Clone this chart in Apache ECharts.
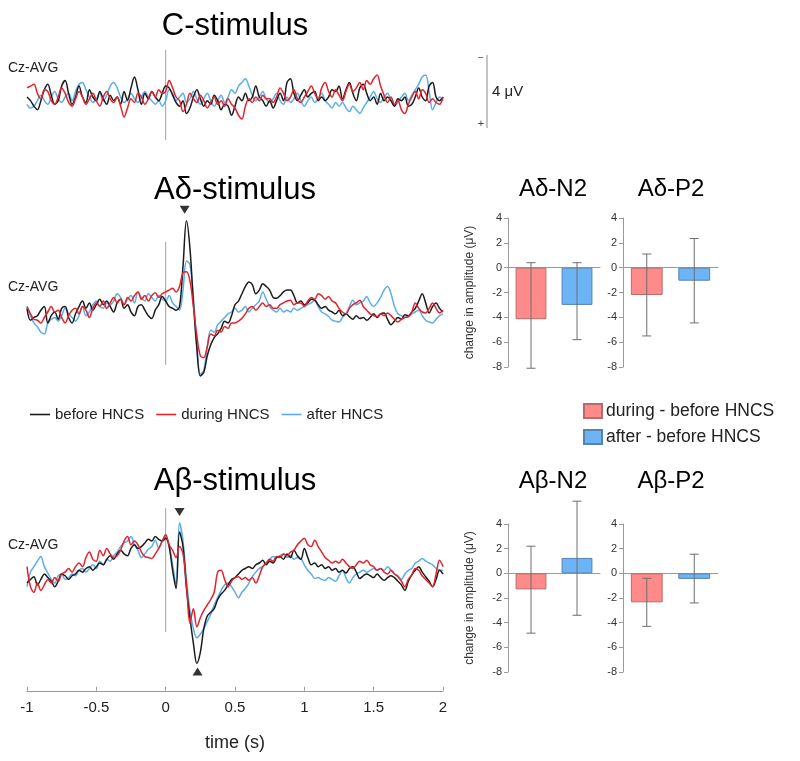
<!DOCTYPE html>
<html>
<head>
<meta charset="utf-8">
<script src="https://cdn.jsdelivr.net/npm/echarts@6/dist/echarts.min.js"></script>
<style>html,body{margin:0;padding:0;background:#fff}#chart{width:800px;height:761px}</style>
</head>
<body>
<div id="chart"></div>
<script>
// ---- sampling grid (s) ----
const tStart = -1, tStep = 0.025, nSamples = 121;
// ---- waveforms, µV (negative plotted upward) ----
const cBefore = [0,0.2,0.5,0.7,0.2,-0.4,-0.7,-0.1,0.4,0.2, -0.6,-0.9,-0.2,0.4,0,-0.6,0,0.3,-0.4,0, 0.2,-0.3,0.1,0.4,-0.1,0.2,0,0.4,-0.3,0.2, -0.5,-1.1,-0.4,0.4,-0.2,0.1,-0.3,0,0.2,-0.2, -0.6,-0.5,-0.1,0.3,0.5,0.2,0.9,0.6,0,-0.4, 0.1,0.5,0.2,0.4,-0.1,0.2,0.7,0.4,0.5,1.0, 0.5,0,0.2,-0.2,0.2,0,-0.6,0,0.2,0.5, 0.2,0.6,0.2,-0.2,0.2,-0.8,-1.0,-0.2,0.2,-0.1, -0.4,0,-0.2,-0.3,0.2,0,0.2,0,-0.4,-0.3, -0.6,0.1,-0.4,-0.8,-0.2,0.2,-0.5,-0.7,-0.2,0.2, 0,0.4,-0.2,0.2,0,0.2,0.5,0.1,0.2,0, 0.5,0.4,0,-0.5,0,0.2,-0.6,-0.8,0,0.2,0];
const cDuring = [-0.5,-0.6,-0.7,-0.2,0.1,-0.4,-0.3,0.2,0.4,0, -0.5,-0.2,0.3,0.5,0.1,-0.3,0,0.4,0.1,-0.2, 0.2,0.5,0,-0.3,0.1,0.3,0,0.5,1.1,0.6, 0.1,0.3,-0.2,0,0.4,0.1,-0.3,0,-0.4,-0.2, -0.3,-0.9,-0.5,0,0.2,0.8,0.4,-0.2,0.1,0.3, -0.1,0.2,0.6,0.3,0,0.4,0.2,0.5,0.1,0.4, 0.6,1.0,1.2,0.5,0.1,0.3,0,0.2,-0.1,0.1, 0.1,0.3,0,-0.5,-0.2,0.2,0,-0.4,0.1,0.3, 0,-0.3,-0.6,-0.2,0.1,-0.5,-0.8,-0.3,0,-0.4, -0.1,0.2,-0.3,-0.7,-0.3,-0.5,-0.8,-0.4,-0.9,-0.7, -1.0,-1.2,-0.6,-0.1,0.3,0,0.4,0.2,0.7,0.9, 0.4,0,-0.3,0.1,-0.4,-0.2,0.3,0.1,0.3,0.4,0];
const cAfter = [0.4,0.6,0.5,0.2,-0.1,0.2,0.4,0,-0.3,0.1, 0.3,0,-0.2,0.2,-0.3,-0.7,-0.8,-0.4,0,0.3, 0.1,-0.2,0.2,-0.1,-0.6,-0.8,-0.5,0,0.3,0.1, -0.2,0.1,0.3,0,-0.3,0,0.2,0.4,0.2,0.5, 0.2,-0.4,-0.2,0.2,0,-0.2,0.3,0.1,-0.3,0.1, 0.4,0.1,-0.2,0.2,0.5,0.2,-0.1,0.3,0,-0.4, -0.2,-0.6,-0.8,-1.0,-0.6,-0.1,0.2,0,-0.3,0.1, 0.3,0.1,-0.2,0.2,0.4,0,0.3,0.1,-0.2,0.2, 0.5,0.2,0,0.3,0.1,-0.2,0.2,0.4,0.6,0.3, 0.5,0.3,0.6,0.8,0.5,0.7,0.9,0.6,0.3,0, -0.3,0.1,0.3,0,-0.2,0.2,0.5,0.3,0,-0.2, 0.2,-0.1,-0.4,-0.7,-1.1,-1.2,-0.3,0.7,0.3,0,0.2];

const adBefore = [-0.2,0.45,0.3,0.2,-0.1,-0.3,0.6,0.2,0,0.4, -0.2,-0.3,0.3,0.6,0.1,-0.3,-0.6,-0.2,-0.5,-0.1, -0.4,-0.7,-0.4,-0.6,-0.3,0,-0.5,-0.7,-0.2,-0.4, 0,0.2,-0.3,-0.4,-0.1,0.2,0.35,-0.1,-0.4,-0.85, -0.6,-0.3,-0.2,-0.1,-0.3,-2.5,-5.0,-3.5,-0.5,2.0, 3.5,3.3,2.4,1.8,1.4,1.2,0.9,0.5,0.6,0.2, -0.4,-0.6,-1.0,-1.4,-1.65,-1.5,-1.0,-1.2,-1.55,-1.4, -1.2,-0.8,-0.75,-0.9,-1.1,-1.2,-1.2,-0.9,-0.5,-0.6, -0.4,-0.5,-0.7,-0.65,-0.4,-0.2,-0.3,-0.1,0,0.1, -0.1,0.2,0.1,0.25,0.4,0.2,0.35,0.3,0.45,0.3, 0.1,0.3,0.1,0.05,0.4,0.7,0.5,0.3,0.4,0.15, 0.2,0,-0.2,-0.6,-1.0,-0.5,0.05,-0.3,-0.5,-0.2,0];
const adDuring = [-0.3,0.1,0.4,0.45,0.6,0.3,0,-0.3,0,-0.1, 0.3,0.6,0.2,-0.1,-0.2,0.1,-0.3,-0.1,0.3,-0.2, -0.5,-0.3,-0.6,-0.2,-0.5,-0.8,-0.5,-0.7,-0.4,-0.8, -0.6,-0.9,-1.1,-0.7,-0.9,-0.6,-0.9,-1.05,-0.8,-1.0, -1.1,-1.2,-1.3,-1.1,-1.4,-2.15,-2.2,-1.7,-0.3,1.3, 2.4,2.5,1.9,1.2,1.3,1.0,1.1,0.8,0.9,0.6, 0.6,0.5,0.35,0.1,-0.2,-0.3,-0.1,-0.3,-0.5,-0.3, -0.4,-0.2,-0.2,-0.4,-0.5,-0.6,-0.65,-0.4,-0.5,-0.5, -0.3,-0.6,-0.8,-0.7,-1.0,-0.9,-0.7,-0.85,-0.6,-0.5, -0.2,0,0.1,-0.2,-0.4,-0.5,-0.65,-0.3,-0.1,0.1, 0.2,0.25,0.1,0.2,0.05,0.2,0.4,0.55,0.4,0.3, 0.25,0,-0.5,-0.2,0,0.05,-0.2,-0.5,-0.2,0.05,-0.1];
const adAfter = [-0.3,0.2,0.6,0.8,1.1,1.2,0.6,0.4,0.3,0.5, 0.2,-0.2,0.1,0.3,0.5,0.2,-0.3,0.2,0,-0.4, -0.6,-0.3,-0.2,-0.5,-0.4,-0.6,-1.0,-0.8,-0.4,-0.7, -0.9,-0.5,-1.1,-0.8,-0.6,-1.0,-0.8,-0.6,-0.9,-0.7, -0.6,-0.9,-0.5,-0.3,-0.1,-1.2,-2.8,-2.6,-0.8,1.8, 3.4,3.2,1.9,1.0,1.1,0.7,0.5,0.3,0.1,0, -0.2,0,-0.1,-0.3,0,-0.2,-0.4,-0.6,-1.1,-0.7, -0.3,-0.1,0,-0.2,0,-0.1,0,-0.2,-0.1,-0.2, -0.3,-0.4,-0.5,-0.65,-0.3,0,0.1,0.25,0.45,0.5, 0.55,0.3,0.1,-0.3,-0.65,-0.4,-0.5,-0.6,-0.85,-0.5, -0.3,-0.5,-0.8,-1.2,-1.4,-1.0,-0.3,0.1,0.2,0.3, 0.25,0.1,0,-0.1,0.2,0.45,0.55,0.6,0.4,0.2,0.1];

const abBefore = [1.1,0.9,0.75,1.2,0.9,0.6,0.8,1.0,1.3,1.0, 0.6,0.7,0.9,0.7,0.6,0.4,0.5,0.3,0.2,0.4, 0.2,0,0.1,-0.2,-0.4,-0.2,-0.5,-0.7,-0.5,-0.4, -0.8,-1.0,-0.8,-0.9,-1.1,-1.3,-1.2,-1.45,-1.3,-1.2, -1.35,-0.9,0.4,1.4,-1.7,-0.9,1.4,3.0,4.4,5.5, 4.9,3.6,2.9,2.7,2.5,2.0,1.7,1.5,1.2,0.9, 0.8,0.6,0.4,0.3,0.2,0.3,0.1,0,-0.15,0.1, -0.1,0,-0.3,-0.35,-0.2,-0.5,-0.3,-0.7,-0.4,-0.2, -0.8,-0.3,0.1,0,0.2,0.1,0.3,0.2,0.4,0.3, 0.5,0.4,0.55,0.3,0.2,0.5,0.85,0.7,0.6,0.7, 0.8,0.6,0.8,0.95,0.8,0.7,0.8,1.0,1.2,1.5, 1.0,0.65,0.4,0.2,0.5,0.75,1.0,1.3,0.9,0.4,0.6];
const abDuring = [0.2,1.3,1.6,1.1,1.5,1.2,0.9,1.1,0.8,1.0, 0.6,0.5,0.3,0.5,0.2,0,0.2,-0.3,-0.6,-0.2, -0.1,-0.7,-0.4,-0.8,-0.5,-0.3,-0.4,-0.7,-1.2,-1.45, -1.0,-1.2,-1.0,-0.6,-0.35,-0.3,-0.25,-0.5,-0.8,-1.2, -1.55,-1.0,-0.7,-0.3,-0.9,-0.5,1.2,3.3,2.5,3.5, 3.0,2.6,2.3,2.0,1.6,0.5,0.4,0.9,1.3,1.0, 0.8,0.75,0.9,0.8,0.95,0.8,1.1,0.7,0.2,0, -0.2,-0.1,-0.35,-0.3,-0.5,-0.4,-0.6,-0.7,-1.0,-1.2, -1.35,-1.0,-0.9,-1.25,-0.9,-0.6,-0.3,-0.15,0,-0.1, 0,-0.2,0,0.2,0.3,0.1,-0.1,0,-0.15,0.1, 0.2,0.4,0.3,0.5,0.6,0.4,0.6,0.75,1.0,1.3, 0.9,0.65,0.3,0.4,0.7,0.9,1.1,1.3,0.6,-0.15,0.2];
const abAfter = [1.3,0.5,0.2,-0.1,-0.35,0.2,0.55,0.9,1.1,0.7, 0.6,0.9,0.8,0.6,0.7,0.4,0.3,0.5,0.3,0.1, 0.3,-0.1,0.1,-0.2,-0.1,-0.4,-0.6,-0.9,-1.1,-1.2, -1.45,-1.0,-0.7,-0.3,-0.5,-0.75,-0.9,-1.25,-0.8,-1.2, -1.45,-1.0,0.1,1.2,-2.2,-1.2,0.9,2.6,3.6,4.1, 3.9,3.6,3.2,2.8,2.3,1.9,1.5,1.2,1.1,1.3, 1.6,1.9,1.6,1.4,1.1,0.75,0.5,0.3,0.2,0, -0.2,-0.35,-0.3,-0.4,-0.5,-0.3,-0.4,-0.2,-0.3,-0.25, 0.1,0.4,0.6,0.85,0.8,0.9,0.95,0.8,0.9,1.0, 0.7,0.4,0.8,1.1,0.8,0.6,0.5,0.4,0.5,0.4, 0.3,0.4,0.3,0.4,0.2,0.4,0.6,0.7,0.9,0.6, 0.4,0.3,0,-0.1,-0.25,-0.1,0,0.1,0.3,0.4,0.4];

// stimulus-onset marker extents (µV) and peak markers [t, µV]
const onsetC = [-2.58, 2.36], onsetAd = [-3.84, 2.9], onsetAb = [-3.0, 3.78];
const adN2Mark = [0.137, -5.6], adP2Mark = [0.26, 4.1];
const abN2Mark = [0.10, -2.8], abP2Mark = [0.23, 5.95];

// time-axis ticks
const timeTicks = [-1, -0.5, 0, 0.5, 1, 1.5, 2];

// ---- bar charts: change in amplitude (µV) ----
const barCategories = ['during - before HNCS', 'after - before HNCS'];
const adN2Mean = [-4.15, -3.0],  adN2Low = [-8.1, -5.8],  adN2High = [0.4, 0.4];
const adP2Mean = [-2.2, -1.05],  adP2Low = [-5.5, -4.45], adP2High = [1.1, 2.35];
const abN2Mean = [-1.3, 1.25],   abN2Low = [-4.85, -3.4], abN2High = [2.2, 5.85];
const abP2Mean = [-2.35, -0.45], abP2Low = [-4.3, -2.4],  abP2High = [-0.4, 1.55];
const barTicks = [-8, -6, -4, -2, 0, 2, 4];
const lineLegend = ['before HNCS', 'during HNCS', 'after HNCS'];

// ---------------------------------------------------------------
const FONT = '"Liberation Sans", Arial, Helvetica, sans-serif';
const times = [];
for (let i = 0; i < nSamples; i++) times.push(+(tStart + i * tStep).toFixed(3));
const pairs = vals => vals.map((v, i) => [times[i], v]);

const C_BLACK = '#1c1c1c', C_RED = '#e3232c', C_BLUE = '#5aaee9';
const PXU = 18.25; // px per µV
const waveGrids = [
  {baseline: 97,  min: -3,   max: 3},
  {baseline: 312, min: -6,   max: 4},
  {baseline: 563, min: -3.5, max: 7}
];

const grid = [], xAxis = [], yAxis = [], series = [];
waveGrids.forEach((g, k) => {
  grid.push({left: 27, width: 416, top: g.baseline + g.min * PXU, height: (g.max - g.min) * PXU});
  xAxis.push({
    type: 'value', gridIndex: k, min: -1, max: 2, interval: 0.5,
    show: k === 2,
    axisLine: {show: true, onZero: false, lineStyle: {color: '#9a9a9a', width: 1}},
    axisTick: {show: true, inside: true, length: 4, lineStyle: {color: '#9a9a9a'}},
    axisLabel: {show: true, fontFamily: FONT, fontSize: 15, color: '#222', margin: 10,
      formatter: v => timeTicks.includes(v) ? String(v) : ''},
    splitLine: {show: false},
    name: k === 2 ? 'time (s)' : '', nameLocation: 'middle', nameGap: 43,
    nameTextStyle: {fontFamily: FONT, fontSize: 18, color: '#222'}
  });
  yAxis.push({type: 'value', gridIndex: k, inverse: true, min: g.min, max: g.max, show: false, splitLine: {show: false}});
});

const wave = (name, data, color, k) => ({
  name, type: 'line', xAxisIndex: k, yAxisIndex: k, data: pairs(data),
  symbol: 'none', smooth: 0.35, lineStyle: {color, width: 1.5}, itemStyle: {color},
  silent: true, z: 3
});
const onset = (ext, k) => ({
  type: 'line', xAxisIndex: k, yAxisIndex: k, data: [[0, ext[0]], [0, ext[1]]],
  symbol: 'none', lineStyle: {color: '#a0a0a0', width: 1}, silent: true, z: 2
});
const marks = (down, up, k) => ([
  {type: 'scatter', xAxisIndex: k, yAxisIndex: k, data: [down], symbol: 'triangle', symbolRotate: 180,
   symbolSize: [10, 8], itemStyle: {color: '#000'}, silent: true, z: 5},
  {type: 'scatter', xAxisIndex: k, yAxisIndex: k, data: [up], symbol: 'triangle',
   symbolSize: [10, 8], itemStyle: {color: '#000'}, silent: true, z: 5}
]);

series.push(onset(onsetC, 0), wave('after HNCS', cAfter, C_BLUE, 0), wave('before HNCS', cBefore, C_BLACK, 0), wave('during HNCS', cDuring, C_RED, 0));
series.push(onset(onsetAd, 1), wave('after HNCS', adAfter, C_BLUE, 1), wave('before HNCS', adBefore, C_BLACK, 1), wave('during HNCS', adDuring, C_RED, 1));
series.push(...marks(adN2Mark, adP2Mark, 1));
series.push(onset(onsetAb, 2), wave('after HNCS', abAfter, C_BLUE, 2), wave('before HNCS', abBefore, C_BLACK, 2), wave('during HNCS', abDuring, C_RED, 2));
series.push(...marks(abN2Mark, abP2Mark, 2));

// bar panels
const barPanels = [
  {left: 508, width: 92, top: 218, height: 149, mean: adN2Mean, low: adN2Low, high: adN2High, yname: true},
  {left: 623, width: 95, top: 218, height: 149, mean: adP2Mean, low: adP2Low, high: adP2High, yname: false},
  {left: 508, width: 92, top: 524, height: 148, mean: abN2Mean, low: abN2Low, high: abN2High, yname: true},
  {left: 623, width: 95, top: 524, height: 148, mean: abP2Mean, low: abP2Low, high: abP2High, yname: false}
];
const barFill = ['#ff8a8a', '#6cb4f6'];
const barBorder = ['#b86b6b', '#5584b3'];
barPanels.forEach((p, j) => {
  const k = 3 + j;
  grid.push({left: p.left, width: p.width, top: p.top, height: p.height});
  xAxis.push({type: 'category', gridIndex: k, data: barCategories,
    axisLine: {show: true, onZero: true, lineStyle: {color: '#9a9a9a', width: 1}},
    axisTick: {show: false}, axisLabel: {show: false}, splitLine: {show: false}});
  yAxis.push({type: 'value', gridIndex: k, min: -8, max: 4, interval: 2,
    axisLine: {show: true, lineStyle: {color: '#9a9a9a', width: 1}},
    axisTick: {show: true, length: 4, lineStyle: {color: '#9a9a9a'}},
    axisLabel: {fontFamily: FONT, fontSize: 11, color: '#333', margin: 6,
      formatter: v => barTicks.includes(v) ? String(v) : ''},
    splitLine: {show: false},
    name: p.yname ? 'change in amplitude (μV)' : '', nameLocation: 'middle', nameGap: 32,
    nameTextStyle: {fontFamily: FONT, fontSize: 12, color: '#333'}});
  barCategories.forEach((c, ci) => {
    series.push({name: c, type: 'bar', xAxisIndex: k, yAxisIndex: k,
      data: p.mean.map((v, i) => i === ci ? v : '-'),
      barWidth: '67%', barGap: '-100%',
      itemStyle: {color: barFill[ci], borderColor: barBorder[ci], borderWidth: 1},
      silent: true, z: 2});
  });
  series.push({type: 'custom', xAxisIndex: k, yAxisIndex: k, silent: true, z: 4,
    data: p.mean.map((v, i) => [i, p.low[i], p.high[i]]),
    encode: {x: 0, y: [1, 2]},
    renderItem: (params, api) => {
      const a = api.coord([api.value(0), api.value(1)]);
      const b = api.coord([api.value(0), api.value(2)]);
      const w = 4.5, st = {stroke: '#6e6e6e', lineWidth: 1};
      return {type: 'group', children: [
        {type: 'line', shape: {x1: a[0], y1: a[1], x2: b[0], y2: b[1]}, style: st},
        {type: 'line', shape: {x1: a[0] - w, y1: a[1], x2: a[0] + w, y2: a[1]}, style: st},
        {type: 'line', shape: {x1: b[0] - w, y1: b[1], x2: b[0] + w, y2: b[1]}, style: st}
      ]};
    }});
});

const txt = (text, x, y, size, align, color) => ({
  type: 'text', x, y, silent: true,
  style: {text, font: size + 'px ' + FONT, fill: color || '#000', align: align || 'center',
          textAlign: align || 'center', verticalAlign: 'middle', textVerticalAlign: 'middle'}
});

const option = {
  animation: false,
  backgroundColor: '#fff',
  grid, xAxis, yAxis, series,
  legend: [
    {data: lineLegend.map(n => ({name: n, icon: 'rect'})), left: 30, top: 407, padding: 0,
     itemWidth: 20, itemHeight: 1.6, itemGap: 12,
     textStyle: {fontFamily: FONT, fontSize: 15, color: '#222'}, selectedMode: false},
    {data: barCategories, orient: 'vertical', left: 583, top: 402, padding: 0, itemWidth: 18, itemHeight: 14, itemGap: 8,
     icon: 'rect', textStyle: {fontFamily: FONT, fontSize: 17.5, color: '#222', padding: [0, 0, 0, -1]}, selectedMode: false}
  ],
  graphic: [
    txt('C-stimulus', 235, 26, 31),
    txt('Aδ-stimulus', 235, 190, 31),
    txt('Aβ-stimulus', 235, 481, 31),
    txt('Aδ-N2', 553, 189, 24),
    txt('Aδ-P2', 671, 189, 24),
    txt('Aβ-N2', 553, 481, 24),
    txt('Aβ-P2', 671, 481, 24),
    txt('Cz-AVG', 8, 68, 14, 'left', '#222'),
    txt('Cz-AVG', 8, 287, 14, 'left', '#222'),
    txt('Cz-AVG', 8, 545, 14, 'left', '#222'),
    {type: 'line', silent: true, shape: {x1: 487, y1: 55, x2: 487, y2: 128}, style: {stroke: '#8a8a8a', lineWidth: 1}},
    txt('−', 481, 58, 10, 'center', '#444'),
    txt('+', 481, 124, 11, 'center', '#444'),
    txt('4 μV', 492, 92, 15, 'left', '#222')
  ]
};
const chart = echarts.init(document.getElementById('chart'), null, {renderer: 'canvas'});
chart.setOption(option);
</script>
</body>
</html>
